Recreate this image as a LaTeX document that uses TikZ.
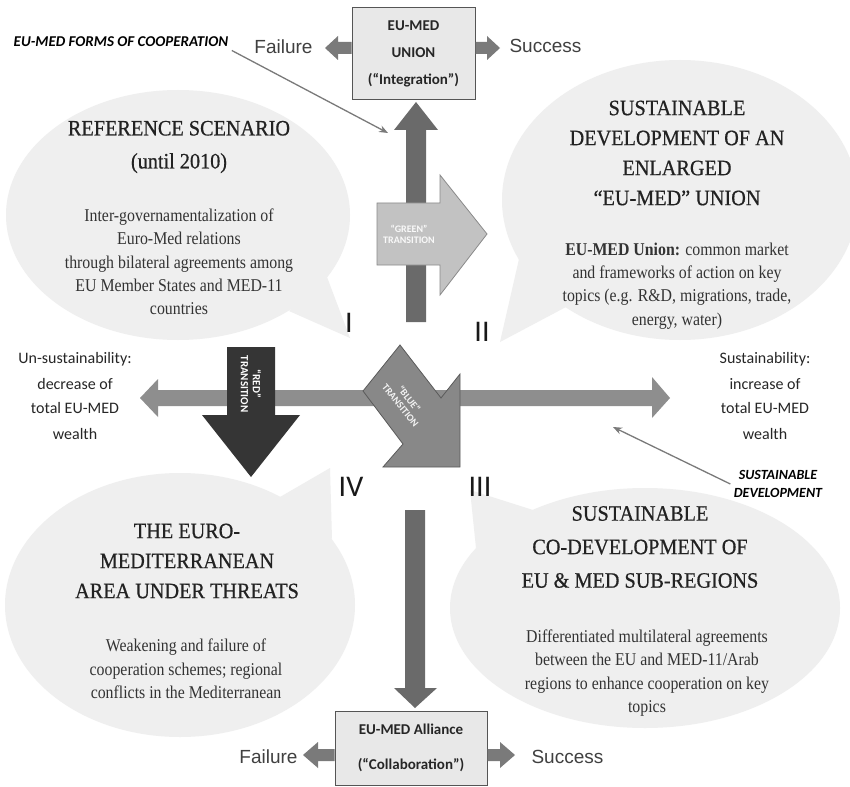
\documentclass[tikz,border=0pt]{standalone}
\usepackage{fontspec}
\setmainfont{Liberation Serif}
\newfontfamily\titlefont[FakeStretch=0.92,FakeBold=0.6]{Liberation Serif}
\newfontfamily\bodyfont[FakeStretch=0.88]{Liberation Serif}
\newfontfamily\calib{Carlito}
\newfontfamily\arialf{Liberation Sans}
\usetikzlibrary{arrows.meta}
\definecolor{bubblec}{HTML}{EFEFEF}
\definecolor{titlec}{HTML}{222222}
\definecolor{bodyc}{HTML}{333333}
\definecolor{boxfill}{HTML}{E8E8E8}
\definecolor{boxline}{HTML}{555555}
\definecolor{shaftdark}{HTML}{6A6A6A}
\definecolor{shaftmid}{HTML}{8E8E8E}
\definecolor{greenarr}{HTML}{C2C2C2}
\definecolor{greenline}{HTML}{8A8A8A}
\definecolor{redarr}{HTML}{353535}
\definecolor{bluearr}{HTML}{888888}
\definecolor{bluelin}{HTML}{5A5A5A}
\definecolor{smallarr}{HTML}{7A7A7A}
\definecolor{annotc}{HTML}{7A7A7A}
\begin{document}
\begin{tikzpicture}[x=1pt,y=-1pt,
  bubble/.style={fill=bubblec,draw=none},
  titletxt/.style={font=\titlefont\fontsize{22}{31}\selectfont,align=center,text=titlec},
  bodytxt/.style={font=\bodyfont\fontsize{18}{23.3}\selectfont,align=center,text=bodyc},
  boxstyle/.style={draw=boxline,fill=boxfill,line width=1pt,align=center,text=black!85,inner sep=0pt},
  sidetxt/.style={font=\calib\fontsize{16}{25}\selectfont,align=center,text=black!85},
  quad/.style={font=\calib\fontsize{30}{30}\selectfont,text=black!90},
  fsl/.style={font=\arialf\fontsize{19}{19}\selectfont,text=black!75},
  annotlab/.style={font=\calib\bfseries\itshape\fontsize{15}{18}\selectfont,align=center,text=black},
  arrtxt/.style={font=\calib\bfseries\fontsize{10}{11}\selectfont,align=center,text=white,inner sep=1pt},
  annot/.style={draw=annotc,line width=1.3pt,-{Stealth[length=9pt,width=7pt]}}]
\useasboundingbox[fill=white] (0,0) rectangle (850,786);

% ---------- speech bubbles ----------
\fill[bubble] (327,277) -- (350,338) -- (289,311) -- cycle;
\fill[bubble] (178,215) ellipse [x radius=172pt, y radius=125pt];
\fill[bubble] (566,307) -- (500,342) -- (519,259) -- cycle;
\fill[bubble] (680,200) ellipse [x radius=178pt, y radius=140pt];
\fill[bubble] (332,539) -- (330,468) -- (280,497) -- cycle;
\fill[bubble] (180,605) ellipse [x radius=175pt, y radius=132pt];
\fill[bubble] (476,548) -- (470,490) -- (533,510) -- cycle;
\fill[bubble] (645,608) ellipse [x radius=195pt, y radius=120pt];

% ---------- bubble texts ----------
\node[titletxt,font=\titlefont\fontsize{22}{33}\selectfont] (t1) at (179,147) {REFERENCE SCENARIO\\(until 2010)};
\node[bodytxt] (b1) at (179,262) {Inter-governamentalization of\\Euro-Med relations\\through bilateral agreements among\\EU Member States and MED-11\\countries};

\node[titletxt,font=\titlefont\fontsize{22}{30}\selectfont] (t2) at (677,153) {SUSTAINABLE\\DEVELOPMENT OF AN\\ENLARGED\\“EU-MED” UNION};
\node[bodytxt] (b2) at (677,286) {\textbf{EU-MED Union:} common market\\and frameworks of action on key\\topics (e.g. R\&D, migrations, trade,\\energy, water)};

\node[titletxt,font=\titlefont\fontsize{22}{30}\selectfont] (t4) at (187,561) {THE EURO-\\MEDITERRANEAN\\AREA UNDER THREATS};
\node[bodytxt] (b4) at (186,669) {Weakening and failure of\\cooperation schemes; regional\\conflicts in the Mediterranean};

\node[titletxt,font=\titlefont\fontsize{22}{33.5}\selectfont] (t3) at (640,547) {SUSTAINABLE\\CO-DEVELOPMENT OF\\EU \& MED SUB-REGIONS};
\node[bodytxt] (b3) at (647,673) {Differentiated multilateral agreements\\between the EU and MED-11/Arab\\regions to enhance cooperation on key\\topics};

% ---------- boxes ----------
\node[boxstyle,minimum width=123pt,minimum height=92pt,font=\calib\bfseries\fontsize{15}{27}\selectfont] (topbox) at (413.5,54) {EU-MED\\UNION\\(“Integration”)};
\node[boxstyle,minimum width=152pt,minimum height=74pt,font=\calib\bfseries\fontsize{15}{35}\selectfont] (botbox) at (411,748) {EU-MED Alliance\\(“Collaboration”)};

% ---------- Failure / Success arrows at the boxes ----------
\fill[smallarr] (topbox.west |- 0,42) -- (338,42) -- (338,36) -- (325,48) -- (338,60) -- (338,54) -- (topbox.west |- 0,54) -- cycle;
\fill[smallarr] (topbox.east |- 0,42) -- (487,42) -- (487,36) -- (500,48) -- (487,60) -- (487,54) -- (topbox.east |- 0,54) -- cycle;
\fill[smallarr] (botbox.west |- 0,749) -- (318,749) -- (318,742) -- (303,755) -- (318,768) -- (318,761) -- (botbox.west |- 0,761) -- cycle;
\fill[smallarr] (botbox.east |- 0,749) -- (500,749) -- (500,742) -- (515,755) -- (500,768) -- (500,761) -- (botbox.east |- 0,761) -- cycle;
\node[fsl,anchor=east] (fail1) at (316,47) {Failure};
\node[fsl,anchor=west] (succ1) at (506,46) {Success};
\node[fsl,anchor=east] (fail2) at (301,757) {Failure};
\node[fsl,anchor=west] (succ2) at (528,757) {Success};

% ---------- main axes ----------
% vertical (top)
\fill[shaftdark] (406,322) -- (406,130) -- (394,130) -- (416,102) -- (438,130) -- (426,130) -- (426,322) -- cycle;
% vertical (bottom)
\fill[shaftdark] (405,510) -- (405,688) -- (394,688) -- (415,708) -- (437,688) -- (425,688) -- (425,510) -- cycle;
% horizontal double arrow
\fill[shaftmid] (140,398) -- (158,379) -- (158,390) -- (652,390) -- (652,377) -- (670,398) -- (652,418) -- (652,406) -- (158,406) -- (158,417) -- cycle;

% green transition
\filldraw[fill=greenarr,draw=greenline,line width=0.8pt] (377,203) -- (440,203) -- (440,175) -- (487,234) -- (440,295) -- (440,265) -- (377,265) -- cycle;
\node[arrtxt,text=white!95!gray] (green) at (409,234) {“GREEN”\\TRANSITION};
% red transition
\fill[redarr] (227,347) -- (275,347) -- (275,415) -- (300,415) -- (251,477) -- (202,415) -- (227,415) -- cycle;
\node[arrtxt,rotate=-90,font=\calib\bfseries\fontsize{11}{12}\selectfont] (red) at (251,384) {“RED”\\TRANSITION};
% blue transition
\filldraw[fill=bluearr,draw=bluelin,line width=0.8pt] (400,345) -- (441,398) -- (460,374) -- (460,467) -- (383,467) -- (403,444) -- (363,391) -- cycle;
\node[arrtxt,rotate=-51,text=white!90!gray] (blue) at (405,402) {“BLUE”\\TRANSITION};

% ---------- quadrant numbers ----------
\node[quad] (q1) at (349,323) {I};
\node[quad] (q2) at (482,332) {II};
\node[quad] (q3) at (480,487) {III};
\node[quad] (q4) at (351,487) {IV};

% ---------- side labels ----------
\node[sidetxt] (unsus) at (75,396) {Un-sustainability:\\decrease of\\total EU-MED\\wealth};
\node[sidetxt] (sus) at (765,396) {Sustainability:\\increase of\\total EU-MED\\wealth};

% ---------- annotations ----------
\node[annotlab] (forms) at (121,42) {EU-MED FORMS OF COOPERATION};
\coordinate (formsend) at (388,133);
\draw[annot] (forms.south east) -- (formsend);
\node[annotlab,font=\calib\bfseries\itshape\fontsize{14}{18}\selectfont] (sdlab) at (778,484) {SUSTAINABLE\\DEVELOPMENT};
\coordinate (sdend) at (613,427);
\draw[annot] (sdlab.west) -- (sdend);
\end{tikzpicture}
\end{document}
